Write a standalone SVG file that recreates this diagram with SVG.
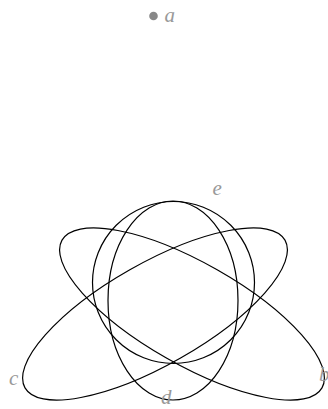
<svg xmlns="http://www.w3.org/2000/svg" width="328" height="409" viewBox="0 0 328 409">
<style>
.s{fill:none;stroke:#000;stroke-width:1.2}
.l{font-family:"Liberation Serif",serif;font-style:italic;font-size:21px;fill:#999}
</style>
<rect width="328" height="409" fill="#fff"/>
<g id="a"><circle cx="153.5" cy="16" r="4.3" fill="#888"/><text class="l" x="164.5" y="22">a</text></g>
<g id="e"><circle class="s" cx="173.5" cy="282.5" r="81"/><text class="l" x="212.5" y="195">e</text></g>
<g id="d"><ellipse class="s" cx="173" cy="300.5" rx="65" ry="99.5"/><text class="l" x="161" y="404">d</text></g>
<g id="b"><ellipse class="s" cx="192" cy="314" rx="149.5" ry="50.9" transform="rotate(29.6 192 314)"/><text class="l" x="319" y="381">b</text></g>
<g id="c"><ellipse class="s" cx="155" cy="314" rx="149.5" ry="50.9" transform="rotate(-29.6 155 314)"/><text class="l" x="9" y="385">c</text></g>
<g id="connectors"/>
</svg>
